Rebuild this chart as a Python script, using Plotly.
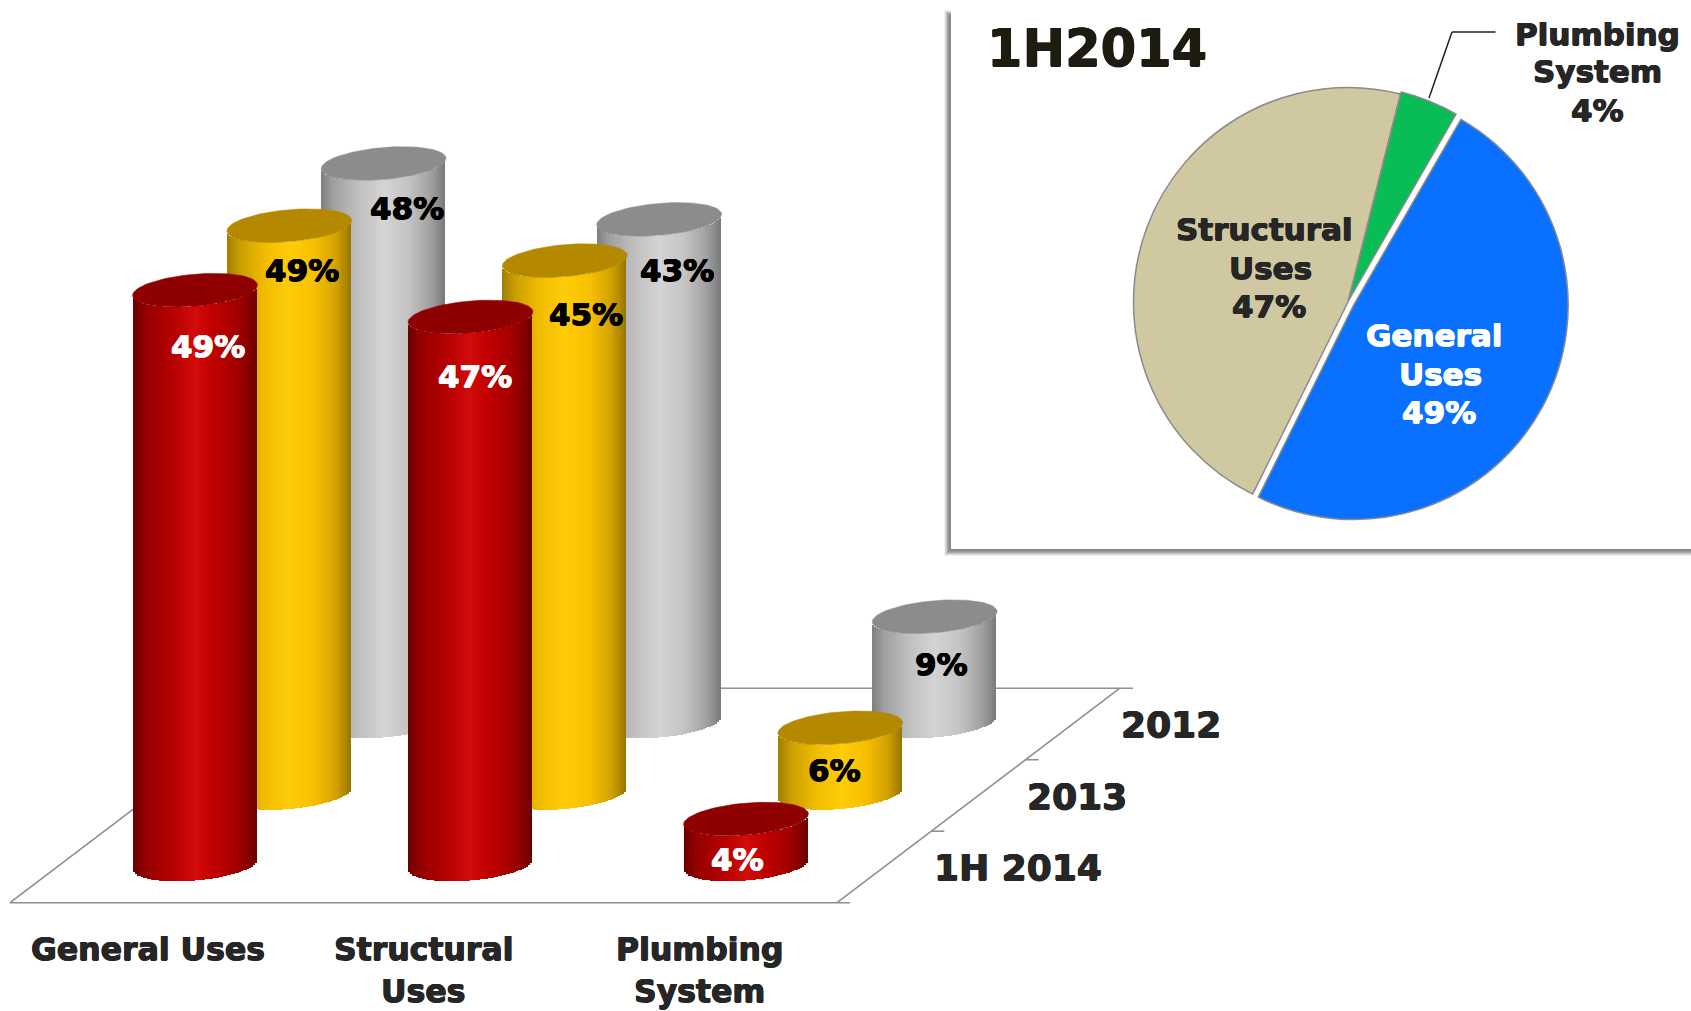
import numpy as np
import plotly.graph_objects as go

# ---------- data ----------
categories = ["General Uses", "Structural Uses", "Plumbing System"]
category_lines = [["General Uses"], ["Structural", "Uses"], ["Plumbing", "System"]]
series_names = ["2012", "2013", "1H 2014"]           # back to front
values_2012 = [47.9, 43.1, 9.0]
values_2013 = [48.7, 45.7, 5.6]
values_1h2014 = [49.3, 47.0, 3.9]
labels_2012 = ["48%", "43%", "9%"]
labels_2013 = ["49%", "45%", "6%"]
labels_1h2014 = ["49%", "47%", "4%"]

pie_labels = ["General Uses", "Structural Uses", "Plumbing System"]
pie_values = [49, 46.6, 4.4]
pie_colors = ["#0a70ff", "#d0c8a0", "#08bd55"]

# ---------- layout constants (pixels of the 1691x1011 page) ----------
W, H = 1691, 1011
PX_PER_CAT, PX_PER_PCT = 275.5, 11.65
X0_PX, Y0_PX = 195.0, 864.5            # where category 0 / 0% of the front row sit
DEPTH_DX_PX, DEPTH_DY_PX = 94.3, 71.5
A_PX, B_PX, TILT_PX = 62.4, 16.0, 5.2  # cylinder ellipse
STRIP_PX = 2

def px2x(p): return (p - X0_PX) / PX_PER_CAT
def py2y(p): return (Y0_PX - p) / PX_PER_PCT

RAMPS = {
    "grey": ([0, .1, .3, .5, .7, .88, 1], ["#7e7e7e", "#a0a0a0", "#c0c0c0", "#d4d4d4", "#c4c4c4", "#a0a0a0", "#777777"], "#8c8c8c"),
    "gold": ([0, .1, .3, .5, .7, .88, 1], ["#a07e00", "#c89d00", "#f0bc00", "#ffcc08", "#f8c000", "#d0a000", "#937300"], "#b48900"),
    "red":  ([0, .1, .3, .5, .65, .85, 1], ["#6b0000", "#950000", "#b30000", "#d30b0b", "#c00000", "#a00000", "#6a0000"], "#8f0000"),
}

def rgb(h): return np.array([int(h[i:i + 2], 16) for i in (1, 3, 5)], float)

def ramp(t, stops, cols):
    c = [np.interp(t, stops, [rgb(k)[j] for k in cols]) for j in range(3)]
    return "rgb(%d,%d,%d)" % tuple(int(round(v)) for v in c)

fig = go.Figure()

rows = [(values_2012, "grey", 2), (values_2013, "gold", 1), (values_1h2014, "red", 0)]
n_strips = int(2 * A_PX / STRIP_PX)
for vals, key, depth in rows:
    stops, cols, cap = RAMPS[key]
    for i, v in enumerate(vals):
        cx_px = X0_PX + i * PX_PER_CAT + depth * DEPTH_DX_PX
        cy_px = Y0_PX - depth * DEPTH_DY_PX
        offs = (np.arange(n_strips) + .5) * STRIP_PX - A_PX
        u = offs / A_PX
        low_px = cy_px + B_PX * np.sqrt(1 - u ** 2) - TILT_PX * u
        fig.add_trace(go.Bar(
            x=px2x(cx_px + offs), y=[v] * n_strips, base=py2y(low_px),
            width=STRIP_PX / PX_PER_CAT,
            marker=dict(color=[ramp((a + 1) / 2, stops, cols) for a in u], line=dict(width=0)),
            hoverinfo="skip", showlegend=False))
        t = np.linspace(0, 2 * np.pi, 90)
        top_px = cy_px - v * PX_PER_PCT
        fig.add_trace(go.Scatter(
            x=px2x(cx_px + A_PX * np.cos(t)),
            y=py2y(top_px + B_PX * np.sin(t) - TILT_PX * np.cos(t)),
            mode="lines", line=dict(width=0.5, color=cap), fill="toself", fillcolor=cap,
            hoverinfo="skip", showlegend=False))

R_PIE, CX_PIE, CY_PIE, PULL = 214.5, 1348.0, 302.0, 0.03
half = R_PIE * (1 + PULL)
fig.add_trace(go.Pie(
    labels=pie_labels, values=pie_values, sort=False, direction="clockwise", rotation=30,
    pull=[PULL, 0, 0.01], textinfo="none", hoverinfo="skip", showlegend=False,
    marker=dict(colors=pie_colors, line=dict(color="#8a8a8a", width=1.5)),
    domain=dict(x=[(CX_PIE - half) / W, (CX_PIE + half) / W],
                y=[1 - (CY_PIE + half) / H, 1 - (CY_PIE - half) / H])))

# ---------- shapes ----------
rects, lines = [], []
def pline(x0, y0, x1, y1, color="#8f8f8f", width=1.6, layer="below"):
    lines.append(dict(type="line", xref="x", yref="y", x0=px2x(x0), y0=py2y(y0), x1=px2x(x1), y1=py2y(y1),
                      line=dict(color=color, width=width), layer=layer))

FLOOR_Y, FLOOR_L, FLOOR_R = 902.7, 10.0, 837.0
BACK_DX, BACK_DY = 3 * DEPTH_DX_PX, 3 * DEPTH_DY_PX
TICK = 13
pline(FLOOR_L, FLOOR_Y, FLOOR_R + TICK, FLOOR_Y)
pline(FLOOR_L, FLOOR_Y, FLOOR_L + BACK_DX, FLOOR_Y - BACK_DY)
pline(FLOOR_R, FLOOR_Y, FLOOR_R + BACK_DX, FLOOR_Y - BACK_DY)
pline(FLOOR_L + BACK_DX, FLOOR_Y - BACK_DY, FLOOR_R + BACK_DX + TICK, FLOOR_Y - BACK_DY)
for k in (1, 2):
    pline(FLOOR_R + k * DEPTH_DX_PX, FLOOR_Y - k * DEPTH_DY_PX,
          FLOOR_R + k * DEPTH_DX_PX + TICK, FLOOR_Y - k * DEPTH_DY_PX)

# inset panel with its soft shadow
PANEL_L, PANEL_T, PANEL_B = 951.0, 10.0, 549.0
for k, col in zip(range(7, 0, -1), ["#f0f0f0", "#dcdcdc", "#c4c4c4", "#aaaaaa", "#989898", "#8c8c8c", "#868686"]):
    rects.append(dict(type="rect", xref="x", yref="y", x0=px2x(PANEL_L - k), x1=px2x(W + 5),
                      y0=py2y(PANEL_T + 7 - k), y1=py2y(PANEL_B + k),
                      fillcolor=col, line=dict(width=0), layer="below"))
rects.append(dict(type="rect", xref="x", yref="y", x0=px2x(PANEL_L), x1=px2x(W + 5),
                  y0=py2y(PANEL_T - 12), y1=py2y(PANEL_B),
                  fillcolor="#ffffff", line=dict(width=0), layer="below"))
# leader line of the pie's small slice
pline(1495.5, 32, 1452, 32, color="#222222", width=1.5, layer="above")
pline(1452, 32, 1429, 98, color="#222222", width=1.5, layer="above")

# ---------- text ----------
FONT = "DejaVu Sans"
DARK = "#262626"
ann = []
def txt(x, y, s, size=31, color=DARK):
    sh = "0.6px 0 0 {c}, -0.6px 0 0 {c}, 0 0.5px 0 {c}, 0 -0.5px 0 {c}".format(c=color)
    ann.append(dict(xref="paper", yref="paper", x=x / W, y=1 - (y - 1) / H, text="<b>%s</b>" % s, showarrow=False,
                    xanchor="center", yanchor="middle", font=dict(family=FONT, size=size, color=color, shadow=sh)))

CAT_X = [148, 423, 699]
for cx, lns in zip(CAT_X, category_lines):
    for j, s in enumerate(lns):
        txt(cx, 950 + 42 * j, s, size=31.5)
for (x, y), s in zip([(1171, 725), (1077, 797), (1018, 868)], series_names):
    txt(x, y, s, size=36)

POS_2012 = [(407, 209), (677, 271), (941, 665)]
POS_2013 = [(302, 271), (585.5, 315), (834, 771)]
POS_1H = [(208, 347), (475, 377), (737, 860)]
for p, s in zip(POS_2012, labels_2012): txt(p[0], p[1], s, color="#000000")
for p, s in zip(POS_2013, labels_2013): txt(p[0], p[1], s, color="#000000")
for p, s in zip(POS_1H, labels_1h2014): txt(p[0], p[1], s, color="#ffffff")

txt(1096.5, 49.5, "1H2014", size=51, color="#1e1c10")
for (x, y), s, c in [((1264, 230), "Structural", DARK), ((1270, 268.5), "Uses", DARK), ((1269, 307), "47%", DARK),
                     ((1434, 336), "General", "#ffffff"), ((1440, 375), "Uses", "#ffffff"), ((1438.5, 413), "49%", "#ffffff"),
                     ((1597, 34.5), "Plumbing", DARK), ((1597, 72), "System", DARK), ((1597, 111), "4%", DARK)]:
    txt(x, y, s, size=31, color=c)

fig.update_layout(
    width=W, height=H, autosize=False, margin=dict(l=0, r=0, t=0, b=0),
    paper_bgcolor="#ffffff", plot_bgcolor="#ffffff", barmode="overlay", bargap=0, showlegend=False,
    xaxis=dict(visible=False, range=[px2x(0), px2x(W)], fixedrange=True, domain=[0, 1]),
    yaxis=dict(visible=False, range=[py2y(H), py2y(0)], fixedrange=True, domain=[0, 1]),
    shapes=rects + lines, annotations=ann)

fig.write_html("out.html", config=dict(displayModeBar=False),
               post_script="document.body.style.margin='0';document.body.style.overflow='hidden';")
